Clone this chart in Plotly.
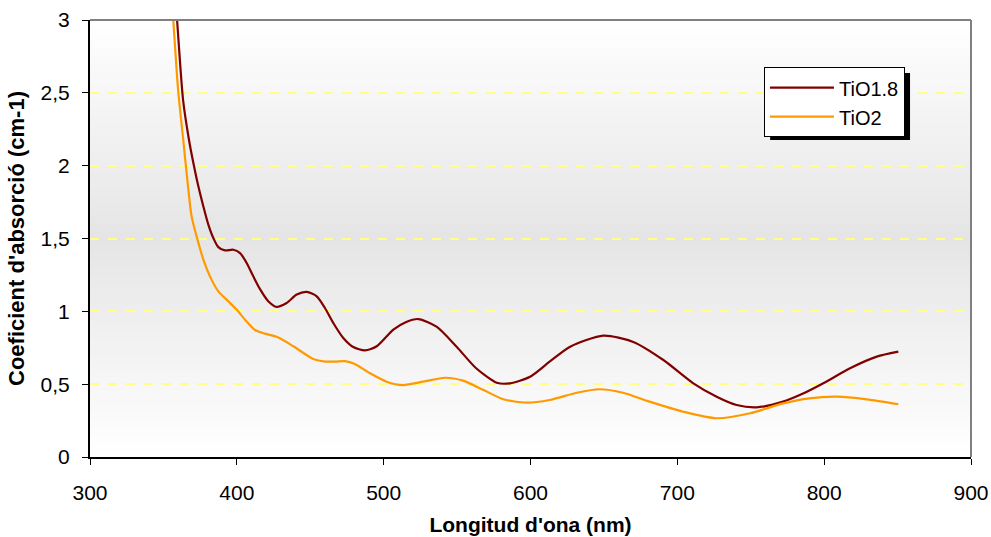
import plotly.graph_objects as go

# ---- data ----
wl_tio18 = [355, 359.3, 363.4, 367.4, 370.4, 373.8, 377.2, 380.6, 384, 387.4, 392, 397.6, 402.2,
            406.7, 411.2, 415.8, 421.4, 427, 433.9, 440.8, 447.6, 454.4, 460, 465.7, 472.5, 479.3,
            487.3, 495.3, 506.6, 515, 523.6, 536, 549.7, 563, 577, 586, 599.7, 613, 627, 649.6,
            670, 690.5, 710.9, 726.8, 740.4, 754, 772, 786, 799.4, 817.6, 835.8, 850.5]
abs_tio18 = [3.6, 3.0, 2.45, 2.178, 2.018, 1.858, 1.72, 1.595, 1.503, 1.441, 1.418, 1.423, 1.40,
             1.332, 1.24, 1.152, 1.069, 1.03, 1.057, 1.115, 1.133, 1.103, 1.023, 0.92, 0.817, 0.755,
             0.732, 0.76, 0.874, 0.925, 0.947, 0.895, 0.757, 0.609, 0.51, 0.506, 0.551, 0.654,
             0.757, 0.833, 0.79, 0.666, 0.506, 0.414, 0.357, 0.341, 0.38, 0.437, 0.506, 0.609,
             0.689, 0.723]

wl_tio2 = [353, 356.7, 360, 363.5, 365.8, 369.2, 372.6, 377.2, 381.7, 387.4, 394.2, 399.8, 405.6,
           412.4, 419.2, 428.3, 438.5, 452, 460, 467, 473.7, 480, 490.7, 502, 513, 527, 541.8, 554,
           568, 581.5, 597, 613, 631.5, 647, 663, 681, 704, 726.8, 749.6, 772, 790, 808.5, 829,
           850.5]
abs_tio2 = [3.5, 3.0, 2.52, 2.178, 1.95, 1.652, 1.515, 1.355, 1.24, 1.137, 1.069, 1.012, 0.943,
            0.872, 0.847, 0.82, 0.76, 0.673, 0.655, 0.655, 0.658, 0.64, 0.575, 0.517, 0.494, 0.517,
            0.544, 0.524, 0.46, 0.396, 0.373, 0.391, 0.441, 0.465, 0.441, 0.38, 0.311, 0.266, 0.3,
            0.368, 0.403, 0.414, 0.396, 0.362]

x_ticks = [300, 400, 500, 600, 700, 800, 900]
y_ticks = [0, 0.5, 1, 1.5, 2, 2.5, 3]
y_tick_text = ["0", "0,5", "1", "1,5", "2", "2,5", "3"]

FONT = "Liberation Sans, Arial, sans-serif"

fig = go.Figure()
fig.add_trace(go.Scatter(x=wl_tio18, y=abs_tio18, mode="lines", name="TiO1.8",
                         line=dict(color="#800000", width=2.2, shape="spline", smoothing=0.7)))
fig.add_trace(go.Scatter(x=wl_tio2, y=abs_tio2, mode="lines", name="TiO2",
                         line=dict(color="#FF9900", width=2.2, shape="spline", smoothing=0.7)))

# gradient background of the plot area: white -> grey (middle) -> white
shapes = []
n = 60
for i in range(n):
    y0 = i / n
    y1 = (i + 1) / n
    yc = (y0 + y1) / 2
    t = 1 - abs(yc - 0.5) / 0.5  # 0 at edges, 1 at centre
    g = int(round(255 - (255 - 229) * t))
    shapes.append(dict(type="rect", xref="paper", yref="paper", x0=0, x1=1, y0=y0, y1=y1 + 0.002,
                       fillcolor=f"rgb({g},{g},{g})", line=dict(width=0), layer="below"))
# top and right grey borders
shapes.append(dict(type="line", xref="paper", yref="paper", x0=0, x1=1, y0=1, y1=1,
                   line=dict(color="#808080", width=2), layer="above"))
shapes.append(dict(type="line", xref="paper", yref="paper", x0=1, x1=1, y0=0, y1=1,
                   line=dict(color="#808080", width=2), layer="above"))
# legend shadow
shapes.append(dict(type="rect", xref="paper", yref="paper", x0=0.772, x1=0.9308, y0=0.7254, y1=0.8787,
                   fillcolor="black", line=dict(width=0), layer="above"))

fig.update_layout(
    width=991, height=537,
    margin=dict(l=90, r=20, t=20, b=80),
    paper_bgcolor="white", plot_bgcolor="white",
    font=dict(family=FONT, color="black", size=21),
    showlegend=True,
    legend=dict(x=0.765, y=0.892, xanchor="left", yanchor="top",
                bgcolor="white", bordercolor="black", borderwidth=1,
                font=dict(size=20, family=FONT), tracegroupgap=0, itemwidth=64),
    shapes=shapes,
    xaxis=dict(range=[300, 900], tickvals=x_ticks, ticks="outside", ticklen=6, tickcolor="black",
               showline=True, linecolor="black", linewidth=2, showgrid=False, zeroline=False,
               automargin=False,
               tickfont=dict(size=21, family=FONT), ticklabelstandoff=10,
               title=dict(text="<b>Longitud d'ona (nm)</b>", font=dict(size=21, family=FONT), standoff=14)),
    yaxis=dict(range=[0, 3], tickvals=y_ticks, ticktext=y_tick_text, ticks="outside", ticklen=6,
               tickcolor="black", showline=True, linecolor="black", linewidth=2,
               showgrid=True, gridcolor="#FFFF88", griddash="dash", gridwidth=1.5, zeroline=False,
               automargin=False,
               tickfont=dict(size=21, family=FONT), ticklabelstandoff=8,
               title=dict(text="<b>Coeficient d'absorció (cm-1)</b>", font=dict(size=22, family=FONT), standoff=10)),
)

fig.write_html("out.html")
